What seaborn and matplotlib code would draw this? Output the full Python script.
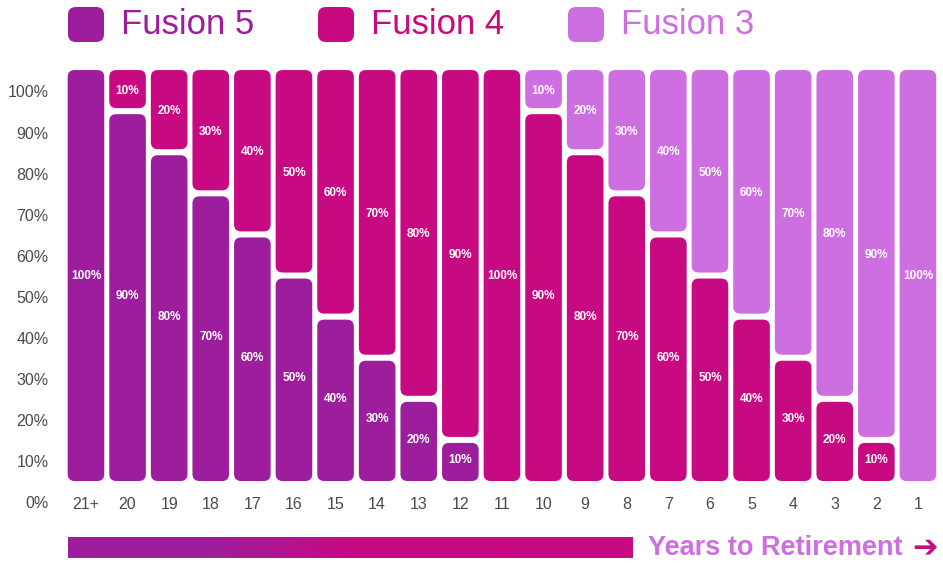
import numpy as np
import pandas as pd
import seaborn as sns
import matplotlib.pyplot as plt
from matplotlib.patches import FancyBboxPatch
from matplotlib.colors import LinearSegmentedColormap

# Datos: porcentaje de cada fondo segun los años hasta el retiro
years = ['21+', '20', '19', '18', '17', '16', '15', '14', '13', '12', '11',
         '10', '9', '8', '7', '6', '5', '4', '3', '2', '1']
fusion5 = [100, 90, 80, 70, 60, 50, 40, 30, 20, 10, 0,
           0, 0, 0, 0, 0, 0, 0, 0, 0, 0]
fusion4 = [0, 10, 20, 30, 40, 50, 60, 70, 80, 90, 100,
           90, 80, 70, 60, 50, 40, 30, 20, 10, 0]
fusion3 = [0, 0, 0, 0, 0, 0, 0, 0, 0, 0, 0,
           10, 20, 30, 40, 50, 60, 70, 80, 90, 100]
series_names = ['Fusion 5', 'Fusion 4', 'Fusion 3']
y_ticks = [0, 10, 20, 30, 40, 50, 60, 70, 80, 90, 100]

colors = ['#9C1E9C', '#C80A82', '#CD6EE1']

sns.set_style('white')
plt.rcParams['font.family'] = ['Liberation Sans', 'DejaVu Sans']

fig = plt.figure(figsize=(9.43, 5.63), dpi=100)
ax = fig.add_axes([0.0691, 0.0872, 0.9264, 0.7957])

df = pd.DataFrame({'Years': years, 'Fusion 5': fusion5,
                   'Fusion 4': fusion4, 'Fusion 3': fusion3})

# Barras apiladas: cada serie arranca donde termina la anterior
bottom = np.zeros(len(years))
for name, col in zip(series_names, colors):
    sns.barplot(data=df, x='Years', y=name, order=years, color=col,
                bottom=bottom, width=0.88, ax=ax, saturation=1)
    bottom = bottom + df[name].values

ax.set_xlim(-0.5, len(years) - 0.5)
ax.set_ylim(-8, 101)

# Reemplazo las barras por rectangulos redondeados con separacion
px_x = 943 * 0.9264 / len(years)          # px por unidad x
px_y = 563 * 0.7957 / 109                 # px por unidad y
aspect = px_x / px_y
gap = 3 / px_y
bars = list(ax.patches)
for p in bars:
    x0, y0, w, h = p.get_x(), p.get_y(), p.get_width(), p.get_height()
    fc = p.get_facecolor()
    p.remove()
    if h <= 0:
        continue
    lo = y0 + (gap if y0 > 0.5 else 0)
    hi = y0 + h - (gap if y0 + h < 99.5 else 0)
    r = 7 / px_x
    box = FancyBboxPatch((x0, lo), w, hi - lo,
                         boxstyle=f'round,pad=0,rounding_size={r}',
                         mutation_aspect=aspect, facecolor=fc,
                         edgecolor='none', zorder=2)
    ax.add_patch(box)
    ax.text(x0 + w / 2, (y0 + y0 + h) / 2, f'{int(round(h))}%',
            ha='center', va='center', color='white', fontsize=8.5,
            fontweight='bold', zorder=3)

ax.set_yticks([v - 5.2 for v in y_ticks])
ax.set_yticklabels([f'{v}%' for v in y_ticks])
ax.tick_params(axis='y', length=0, pad=12, labelsize=11.5, labelcolor='#4a4a4a')
ax.tick_params(axis='x', length=0, pad=-12, labelsize=11.5, labelcolor='#4a4a4a')
ax.set_xlabel('')
ax.set_ylabel('')
sns.despine(ax=ax, left=True, bottom=True)

# Leyenda superior con cuadrados redondeados
for i, (name, col) in enumerate(zip(series_names, colors)):
    lx = 68 + i * 250
    lax = fig.add_axes([lx / 943, 1 - 42 / 563, 36 / 943, 35 / 563])
    lax.set_xlim(0, 1)
    lax.set_ylim(0, 1)
    lax.axis('off')
    lax.add_patch(FancyBboxPatch((0, 0), 1, 1,
                                 boxstyle='round,pad=0,rounding_size=0.22',
                                 facecolor=col, edgecolor='none'))
    fig.text((lx + 53) / 943, 1 - 25 / 563, name, color=col, fontsize=25,
             va='center', ha='left')

# Barra con degradado inferior
gax = fig.add_axes([68 / 943, 1 - 558 / 563, 565 / 943, 21 / 563])
cmap = LinearSegmentedColormap.from_list(
    'grad', [(0, colors[0]), (0.245, colors[0]), (0.5, colors[1]), (1, colors[1])])
gax.imshow(np.linspace(0, 1, 400).reshape(1, -1), aspect='auto', cmap=cmap)
gax.axis('off')

fig.text(648 / 943, 1 - 548 / 563, 'Years to Retirement', color=colors[2],
         fontsize=19.5, fontweight='bold', va='center', ha='left')
fig.text(938 / 943, 1 - 548 / 563, '➔', color=colors[1], fontsize=22,
         fontweight='bold', va='center', ha='right',
         family=['DejaVu Sans'])

fig.savefig('out.png', dpi=100)
